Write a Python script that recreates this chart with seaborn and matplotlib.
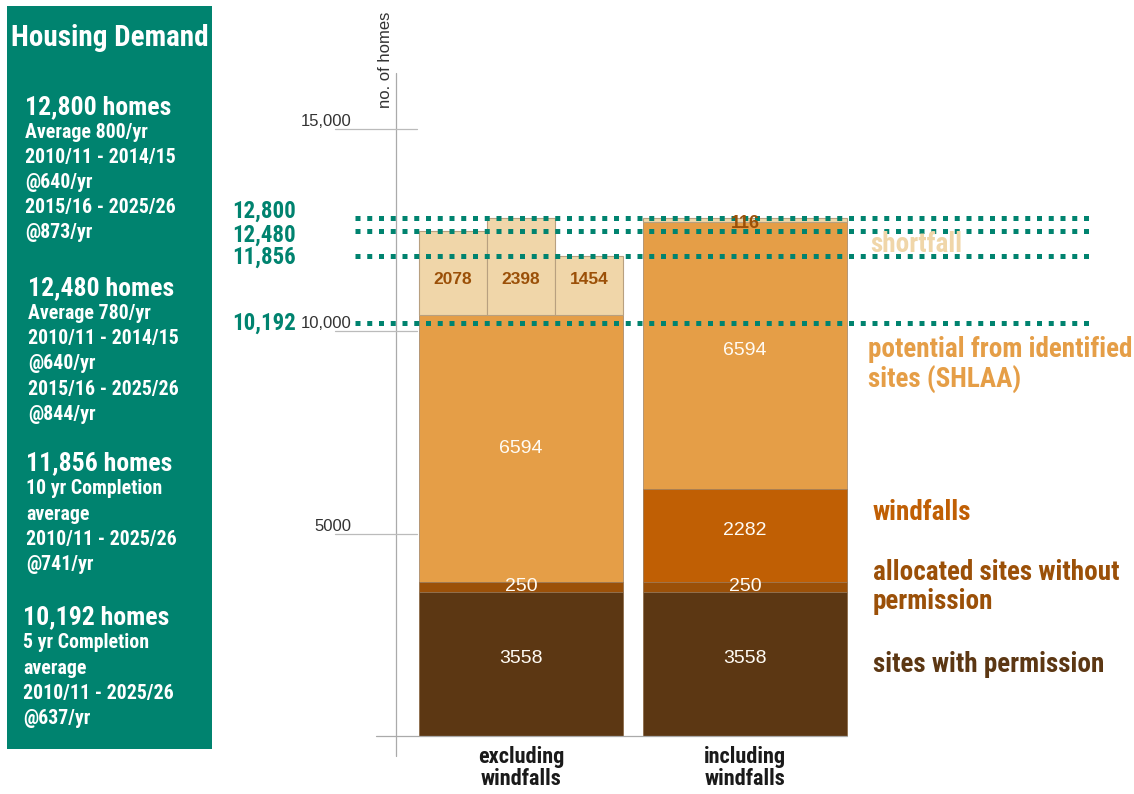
import os
import numpy as np
import pandas as pd
import matplotlib
matplotlib.use("Agg")
import matplotlib.pyplot as plt
import seaborn as sns
from matplotlib import font_manager
from matplotlib.font_manager import FontProperties
from matplotlib.patches import Rectangle

# ---------------- data ----------------
scenarios = ["excluding\nwindfalls", "including\nwindfalls"]
permission = [3558, 3558]
allocated = [250, 250]
windfalls = [0, 2282]
shlaa = [6594, 6594]
shortfall_excl = [2078, 2398, 1454]
shortfall_incl = [116]
demand_levels = [12800, 12480, 11856, 10192]
demand_labels = ["12,800", "12,480", "11,856", "10,192"]
y_ticks = [5000, 10000, 15000]
y_tick_labels = ["5000", "10,000", "15,000"]
legend_labels = ["shortfall", "potential from identified\nsites (SHLAA)", "windfalls",
                 "allocated sites without\npermission", "sites with permission"]
sidebar_title = "Housing Demand"
sidebar_blocks = [
    ["12,800 homes", "Average 800/yr", "2010/11 - 2014/15", "@640/yr", "2015/16 - 2025/26", "@873/yr"],
    ["12,480 homes", "Average 780/yr", "2010/11 - 2014/15", "@640/yr", "2015/16 - 2025/26", "@844/yr"],
    ["11,856 homes", "10 yr Completion", "average", "2010/11 - 2025/26", "@741/yr"],
    ["10,192 homes", "5 yr Completion", "average", "2010/11 - 2025/26", "@637/yr"],
]

# ---------------- style ----------------
C_PERM = "#5C3713"
C_ALLOC = "#9B5008"
C_WIND = "#C05F04"
C_SHLAA = "#E59E47"
C_SHORT = "#F0D6A9"
TEAL = "#00836F"
GREY = "#AAAAAA"

sns.set_theme(style="white")
names = {f.name for f in font_manager.fontManager.ttflist}
REG = "Liberation Sans" if "Liberation Sans" in names else "DejaVu Sans"
plt.rcParams["font.family"] = [REG, "DejaVu Sans"]


def _wnum(w):
    if isinstance(w, str):
        return font_manager.weight_dict.get(w.lower(), 400)
    return w


NARROW_PATH = None
_pref = ["liberation sans narrow", "roboto condensed", "open sans condensed", "dejavu sans condensed",
         "noto sans condensed", "noto sans display condensed"]
_cands = []
for f in font_manager.fontManager.ttflist:
    key = (f.name + " " + os.path.basename(f.fname)).lower()
    if any(k in key for k in ("narrow", "condensed", "compressed")) and _wnum(f.weight) >= 600 \
            and "italic" not in key and "oblique" not in key and "semi" not in key:
        _cands.append((f, key))
for p in _pref:
    matches = [(f, key) for f, key in _cands
               if p.replace(" ", "") in key.replace(" ", "").replace("-", "").replace("_", "")]
    if matches:
        matches.sort(key=lambda fk: _wnum(fk[0].weight))
        NARROW_PATH = matches[-1][0].fname
        break
if NARROW_PATH is None and _cands:
    NARROW_PATH = _cands[0][0].fname


def nfont(size, color, **kw):
    if NARROW_PATH:
        d = dict(fontproperties=FontProperties(fname=NARROW_PATH, size=size), color=color)
    else:
        d = dict(family=REG, fontweight="bold", fontsize=size * 0.82, color=color)
    d.update(kw)
    return d


W, H = 1134, 794
fig = plt.figure(figsize=(W / 100, H / 100), dpi=100)
fig.patch.set_facecolor("white")


def pf(x, y):
    return x / W, 1 - y / H


# main axes
ax = fig.add_axes([320 / W, 58 / H, 814 / W, 664 / H])
ax.set_facecolor("none")

df = pd.DataFrame({"scenario": scenarios, "permission": permission, "allocated": allocated,
                   "windfalls": windfalls, "shlaa": shlaa})
df["top_perm"] = df["permission"]
df["top_alloc"] = df["top_perm"] + df["allocated"]
df["top_wind"] = df["top_alloc"] + df["windfalls"]
df["top_shlaa"] = df["top_wind"] + df["shlaa"]

BW = 0.91
for col, colr in [("top_shlaa", C_SHLAA), ("top_wind", C_WIND), ("top_alloc", C_ALLOC), ("top_perm", C_PERM)]:
    sns.barplot(data=df, x="scenario", y=col, order=scenarios, color=colr, saturation=1,
                width=BW, edgecolor="#9C8064", linewidth=0.5, errorbar=None, ax=ax, zorder=2)

# shortfall blocks
base_ex = df["top_shlaa"].iloc[0]
sw = BW / len(shortfall_excl)
for i, s in enumerate(shortfall_excl):
    ax.bar(0 - BW / 2 + sw * (i + 0.5), s, bottom=base_ex, width=sw, color=C_SHORT,
           edgecolor="#B8A080", linewidth=0.8, zorder=2)
    ax.text(0 - BW / 2 + sw * (i + 0.5), base_ex + 0.6 * min(shortfall_excl), str(s),
            ha="center", va="center", fontsize=12.5, fontweight="bold", color=C_ALLOC, zorder=6)
base_in = df["top_shlaa"].iloc[1]
ax.bar(1, shortfall_incl[0], bottom=base_in, width=BW, color=C_SHORT, edgecolor="#B8A080",
       linewidth=0.8, zorder=2)
ax.annotate(str(shortfall_incl[0]), xy=(1, base_in + shortfall_incl[0] / 2), xytext=(0, -2.5),
            textcoords="offset points", ha="center", va="center",
            fontsize=13, fontweight="bold", color=C_ALLOC, zorder=6)

# segment value labels (small nudges in points to sit as in the original)
for i in range(len(scenarios)):
    segs = [(0, df["top_perm"].iloc[i]), (df["top_perm"].iloc[i], df["top_alloc"].iloc[i]),
            (df["top_alloc"].iloc[i], df["top_wind"].iloc[i]), (df["top_wind"].iloc[i], df["top_shlaa"].iloc[i])]
    nudges = [4, 0, 4, 4 if i == 1 else 0]
    for (lo, hi), nd in zip(segs, nudges):
        if hi - lo > 0:
            ax.annotate(f"{int(hi - lo)}", xy=(i, (lo + hi) / 2), xytext=(0, nd),
                        textcoords="offset points", ha="center", va="center",
                        fontsize=14, color="#FFFBF4", zorder=6)

ax.set_xlim(-0.897, 2.737)
ax.set_ylim(0, 16400)
for sp in ax.spines.values():
    sp.set_visible(False)
ax.set_yticks([])
ax.set_xlabel("")
ax.set_ylabel("")
ax.set_xticks(range(len(scenarios)))
ax.set_xticklabels(scenarios, **nfont(16, "#1A1A1A", linespacing=1.0))
ax.tick_params(axis="x", length=0, pad=7)

# axis lines / ticks
AXX = -0.558
ax.plot([AXX, AXX], [-494, 16370], color=GREY, lw=0.9, clip_on=False, zorder=1)
ax.plot([-0.647, 1.455], [0, 0], color=GREY, lw=0.9, clip_on=False, zorder=3)
for t, lab in zip(y_ticks, y_tick_labels):
    ax.plot([-0.83, -0.464], [t, t], color="#BBBBBB", lw=0.9, clip_on=False, zorder=1)
    ax.annotate(lab, xy=(-0.755, t), xytext=(0, 0), textcoords="offset points",
                ha="right", va="bottom", fontsize=12, color="#333333", annotation_clip=False)
fig.text(*pf(385, 60), "no. of homes", rotation=90, ha="center", va="center", fontsize=12, color="#333333")

# demand dotted lines (labels nudged apart where the lines are close)
label_nudge_pt = [4.5, -3.0, -1.0, 0.0]
for lvl, lab, nud in zip(demand_levels, demand_labels, label_nudge_pt):
    ax.plot([-0.741, 2.54], [lvl, lvl], color=TEAL, lw=3.6, linestyle=(0, (1, 1.35)),
            dash_capstyle="butt", clip_on=False, zorder=5)
    ax.annotate(lab, xy=(-1.29, lvl), xytext=(0, nud), textcoords="offset points",
                ha="left", va="center", annotation_clip=False, **nfont(16.5, TEAL))

# legend texts
leg_pos = [(870, 245), (868, 365), (873, 512), (873, 587), (873, 664)]
leg_cols = [C_SHORT, C_SHLAA, C_WIND, C_ALLOC, C_PERM]
for lab, (x, y), c in zip(legend_labels, leg_pos, leg_cols):
    fig.text(*pf(x, y), lab, ha="left", va="center", linespacing=1.1, **nfont(19.5, c))

# sidebar
fig.add_artist(Rectangle(pf(7, 749), 205 / W, 743 / H, transform=fig.transFigure,
                         facecolor=TEAL, edgecolor="none", zorder=0))
fig.text(*pf(110, 38), sidebar_title, ha="center", va="center", **nfont(21, "white"))
block_y = [107, 288, 463, 617]
block_x = [25, 28, 26, 23]
for blk, by, bx in zip(sidebar_blocks, block_y, block_x):
    fig.text(*pf(bx, by), blk[0], ha="left", va="center", **nfont(18.5, "white"))
    for j, line in enumerate(blk[1:]):
        fig.text(*pf(bx, by + 26 + 25 * j), line, ha="left", va="center", **nfont(14.3, "white"))

fig.savefig("out.png", dpi=100)
